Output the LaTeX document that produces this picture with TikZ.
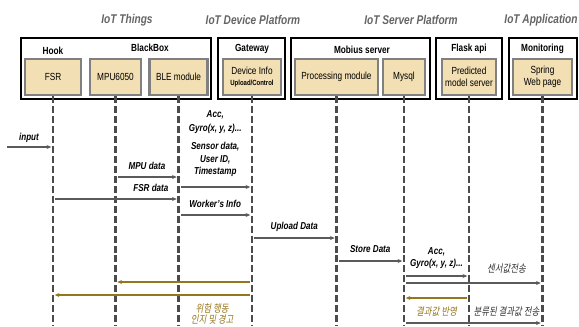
\documentclass[tikz,border=0pt]{standalone}
\usepackage{fontspec}
\setmainfont{Liberation Sans}[FakeStretch=0.8]
\newfontfamily\kfont{Noto Sans CJK KR}[FakeStretch=0.8, FakeSlant=0.18]
\usepackage{xcolor}
\usepackage{tikz}
\usetikzlibrary{arrows.meta, positioning}

\definecolor{partfill}{RGB}{242,223,179}
\definecolor{partline}{RGB}{128,128,128}
\definecolor{titlegray}{RGB}{100,100,100}
\definecolor{msggray}{RGB}{90,90,90}
\definecolor{lifegray}{RGB}{75,75,75}
\definecolor{warngold}{RGB}{150,118,28}

\begin{document}
\begin{tikzpicture}[x=0.03cm, y=-0.03cm, >={Stealth[length=4pt, width=3.4pt]},
        title/.style={font=\fontsize{10.8}{12}\selectfont\bfseries\itshape, text=titlegray, inner sep=1pt},
        grp/.style={rectangle, draw=black, line width=2pt, fill=white, minimum height=1.83cm},
        grplbl/.style={font=\fontsize{8.8}{10}\selectfont\bfseries, inner sep=1pt},
        part/.style={rectangle, draw=partline, line width=2.2pt, fill=partfill, minimum height=1.07cm, align=center, inner sep=1pt, font=\fontsize{8.8}{10.2}\selectfont},
        life/.style={draw=lifegray, line width=2pt, dash pattern=on 6pt off 2.5pt},
        msg/.style={draw=msggray, line width=1pt, shorten >=1.5pt, shorten <=2pt},
        warn/.style={draw=warngold, line width=1.2pt, shorten >=1.5pt, shorten <=2pt},
        lbl/.style={font=\fontsize{8.6}{10.5}\selectfont\bfseries\itshape, align=center, inner sep=1pt},
        klbl/.style={font=\kfont\fontsize{9}{9.4}\selectfont, text=black!80, align=center, inner sep=1pt}]

        \useasboundingbox (0,0) rectangle (579,326);

        \node (t1) [title] at (127,20) {IoT Things};
        \node (t2) [title] at (253,20) {IoT Device Platform};
        \node (t3) [title] at (411,20) {IoT Server Platform};
        \node (t4) [title, anchor=east] at (579,20) {IoT Application};

        \node (things) [grp, minimum width=5.7cm] at (116,68.5) {};
        \node (gate) [grp, minimum width=2.01cm] at (251.5,68.5) {};
        \node (mobius) [grp, minimum width=4.17cm] at (360.5,68.5) {};
        \node (flask) [grp, minimum width=1.98cm] at (469,68.5) {};
        \node (monitor) [grp, minimum width=2.04cm] at (543,68.5) {};

        \node (fsr) [part, minimum width=1.68cm] at (53,77) {FSR};
        \node (mpu) [part, minimum width=1.53cm] at (115.5,77) {MPU6050};
        \node (ble) [part, minimum width=1.74cm] at (178.5,77) {BLE module};
        \node (dev) [part, minimum width=1.74cm] at (252,77) {Device Info\\[-1pt]{\fontsize{6.4}{7}\selectfont\bfseries Upload/Control}};
        \node (proc) [part, minimum width=2.49cm] at (336.5,77) {Processing module};
        \node (sql) [part, minimum width=1.26cm] at (404,77) {Mysql};
        \node (pred) [part, minimum width=1.62cm] at (469,77) {Predicted\\model server};
        \node (web) [part, minimum width=1.77cm] at (542.5,77) {Spring\\Web page};

        \node (hook) [grplbl, above=2pt of fsr] {Hook};
        \node (bbox) [grplbl] at (150,48) {BlackBox};
        \node (gw) [grplbl, above=2pt of dev] {Gateway};
        \node (mob) [grplbl] at (362,50) {Mobius server};
        \node (fapi) [grplbl, above=2pt of pred] {Flask api};
        \node (mon) [grplbl, above=2pt of web] {Monitoring};

        \foreach \n in {fsr, mpu, ble, dev, proc, sql, pred, web}
            \draw[life] (\n) -- (\n |- 0,326);

        \coordinate (src) at (5,147);
        \draw[msg, ->] (src) -- node[lbl, above=2.5pt] {input} (src -| fsr);
        \draw[msg, ->] (mpu |- 0,177) -- node[lbl, above=5pt] {MPU data} (ble |- 0,177);
        \draw[msg, ->] (fsr |- 0,199) -- node[lbl, above=5pt, pos=0.78] {FSR data} (ble |- 0,199);
        \draw[msg, ->] (ble |- 0,187) -- node (sens) [lbl, above=7.5pt] {Sensor data,\\User ID,\\Timestamp} (dev |- 0,187);
        \node (acc) [lbl, above=5pt of sens] {Acc,\\[1pt]Gyro(x, y, z)...};
        \draw[msg, ->] (ble |- 0,215) -- node[lbl, above=5pt] {Worker's Info} (dev |- 0,215);
        \draw[msg, ->] (dev |- 0,238) -- node[lbl, above=4pt] {Upload Data} (proc |- 0,238);
        \draw[msg, ->] (proc |- 0,261) -- node[lbl, above=5.5pt] {Store Data} (sql |- 0,261);
        \draw[msg, ->] (sql |- 0,276) -- node[lbl, above=4.5pt] {Acc,\\Gyro(x, y, z)...} (pred |- 0,276);
        \draw[msg, ->] (sql |- 0,283) -- node[klbl, above=7pt, pos=0.74] {센서값전송} (web |- 0,283);
        \draw[warn, ->] (pred |- 0,298) -- node[klbl, text=warngold, below=5.5pt] {결과값 반영} (sql |- 0,298);
        \draw[msg, ->] (sql |- 0,323) -- node[klbl, above=4.5pt, pos=0.74] {분류된 결과값 전송} (web |- 0,323);

        \draw[warn, ->] (dev |- 0,282) -- (mpu |- 0,282);
        \draw[warn, ->] (dev |- 0,295) -- node[klbl, text=warngold, below=5.5pt, pos=0.2] {위험 행동\\인지 및 경고} (fsr |- 0,295);
    \end{tikzpicture}
\end{document}
